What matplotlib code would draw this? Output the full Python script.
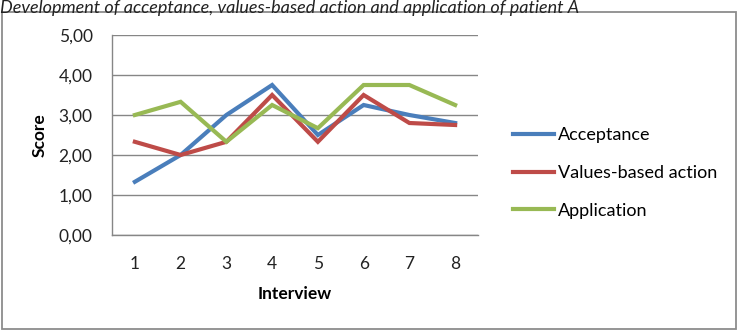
import matplotlib
matplotlib.use("Agg")
import matplotlib.pyplot as plt
from matplotlib.patches import Rectangle
from matplotlib.ticker import FuncFormatter

interviews = [1, 2, 3, 4, 5, 6, 7, 8]
acceptance = [1.33, 2.0, 3.0, 3.75, 2.5, 3.25, 3.0, 2.8]
values_action = [2.33, 2.0, 2.33, 3.5, 2.33, 3.5, 2.8, 2.75]
application = [3.0, 3.33, 2.33, 3.25, 2.67, 3.75, 3.75, 3.25]
series_names = ["Acceptance", "Values-based action", "Application"]
colors = ["#4a7ebb", "#be4b48", "#98b954"]
title = "Development of acceptance, values-based action and application of patient A"

plt.rcParams['font.family'] = ['Lato', 'DejaVu Sans']

W, H = 745, 334
fig = plt.figure(figsize=(W / 100, H / 100), dpi=100)

# outer frame
fig.patches.append(Rectangle((1.5 / W, 1 - 329 / H), (736 - 1.5) / W, (329 - 12) / H,
                             transform=fig.transFigure, fill=False,
                             edgecolor="#8c8c8c", linewidth=1.3))

fig.text(0 / W, 1 - 0.5 / H, title, fontsize=13, style="italic",
         ha="left", va="top", color="#222222")

ax = fig.add_axes([112 / W, 1 - 235 / H, (478 - 112) / W, 200 / H])
for vals, name, c in zip([acceptance, values_action, application], series_names, colors):
    ax.plot(interviews, vals, color=c, linewidth=3.0, label=name, solid_joinstyle="miter")

ax.set_xlim(0.5, 8.5)
ax.set_ylim(0, 5)
ax.set_yticks([0, 1, 2, 3, 4, 5])
ax.set_xticks(interviews)
ax.yaxis.set_major_formatter(FuncFormatter(lambda v, p: f"{v:.2f}".replace(".", ",")))
ax.grid(axis="y", color="#868686", linewidth=1.0)
ax.set_axisbelow(True)
for s in ["top", "right"]:
    ax.spines[s].set_visible(False)
for s in ["left", "bottom"]:
    ax.spines[s].set_color("#868686")
    ax.spines[s].set_linewidth(1.0)
ax.tick_params(axis="both", length=0, labelsize=12.5, colors="#222222")
ax.tick_params(axis="x", pad=15)
ax.tick_params(axis="y", pad=14)
ax.set_xlabel("Interview", fontsize=12.5, fontweight="bold", labelpad=10)
ax.set_ylabel("Score", fontsize=12.5, fontweight="bold", labelpad=8)

leg = ax.legend(loc="center left", bbox_to_anchor=(1.05, 0.31), frameon=False,
                fontsize=13, handlelength=2.3, handletextpad=0.2,
                labelspacing=1.2)

fig.savefig("out.png", dpi=100)
